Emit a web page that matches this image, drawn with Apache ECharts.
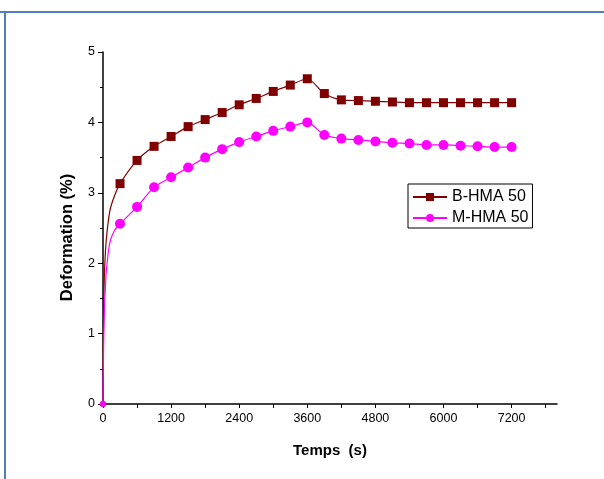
<!DOCTYPE html>
<html>
<head>
<meta charset="utf-8">
<script src="https://cdn.jsdelivr.net/npm/echarts@6/dist/echarts.min.js"></script>
<style>
  html, body { margin: 0; padding: 0; background: #fff; }
  #chart { width: 604px; height: 479px; }
</style>
</head>
<body>
<div id="chart"></div>
<script>
  // temps (s) — points serrés au début pour la montée rapide
  const times = [0, 5, 15, 30, 60, 120, 200, 300, 600, 900, 1200, 1500, 1800, 2100, 2400, 2700, 3000, 3300, 3600,
    3900, 4200, 4500, 4800, 5100, 5400, 5700, 6000, 6300, 6600, 6900, 7200]
  const bHma = [0, 0.8, 1.5, 1.95, 2.35, 2.74, 2.95, 3.13, 3.46, 3.66, 3.80, 3.94, 4.04, 4.14, 4.25, 4.34, 4.44, 4.53, 4.62,
    4.41, 4.32, 4.31, 4.30, 4.29, 4.28, 4.28, 4.28, 4.28, 4.28, 4.28, 4.28]
  const mHma = [0, 0.5, 1.0, 1.45, 1.9, 2.29, 2.46, 2.56, 2.80, 3.08, 3.22, 3.36, 3.50, 3.62, 3.72, 3.80, 3.88, 3.94, 4.00,
    3.82, 3.77, 3.75, 3.73, 3.71, 3.70, 3.68, 3.68, 3.67, 3.66, 3.65, 3.65]
  const seriesNames = ['B-HMA 50', 'M-HMA 50']
  const xTickLabels = [0, 1200, 2400, 3600, 4800, 6000, 7200]
  const xTicks = [0, 600, 1200, 1800, 2400, 3000, 3600, 4200, 4800, 5400, 6000, 6600, 7200, 7800]

  const font = 'Liberation Sans, Arial, sans-serif'

  // un symbole tous les 300 s, aucun sur les points intermédiaires
  function buildData (values, originSize) {
    return times.map((t, i) => {
      if (t === 0) return { value: [t, values[i]], symbolSize: originSize }
      if (t % 300 === 0) return [t, values[i]]
      return { value: [t, values[i]], symbol: 'none' }
    })
  }

  let myChart = echarts.init(document.getElementById('chart'))
  myChart.setOption({
    animation: false,
    backgroundColor: '#fff',
    textStyle: { fontFamily: font },
    grid: { left: 103, right: 47, top: 52, bottom: 75 },
    legend: {
      orient: 'vertical',
      left: 408,
      top: 184,
      padding: [5, 4, 2, 4],
      borderColor: '#000',
      borderWidth: 1,
      itemWidth: 34,
      itemHeight: 10,
      itemGap: 5,
      textStyle: { fontSize: 16, color: '#000', fontFamily: font },
      data: seriesNames
    },
    xAxis: {
      type: 'value',
      min: 0,
      max: 8000,
      name: 'Temps  (s)',
      nameLocation: 'middle',
      nameGap: 39,
      nameTextStyle: { fontSize: 15, fontWeight: 'bold', color: '#000' },
      axisLine: { lineStyle: { color: '#000', width: 1.5 } },
      axisTick: { customValues: xTicks, length: 4, lineStyle: { color: '#000' } },
      axisLabel: {
        customValues: xTickLabels,
        fontSize: 12.5,
        color: '#000',
        margin: 8,
        formatter: (v) => String(v)
      },
      splitLine: { show: false }
    },
    yAxis: {
      type: 'value',
      min: 0,
      max: 5,
      interval: 1,
      name: 'Deformation (%)',
      nameLocation: 'middle',
      nameGap: 27,
      nameTextStyle: { fontSize: 16.5, fontWeight: 'bold', color: '#000', padding: [0, 19, 0, 0] },
      axisLine: { show: true, lineStyle: { color: '#000', width: 1.5 } },
      axisTick: { show: true, length: 5, lineStyle: { color: '#000' } },
      minorTick: { show: true, splitNumber: 2, length: 3, lineStyle: { color: '#000' } },
      axisLabel: { fontSize: 12.5, color: '#000', margin: 8 },
      splitLine: { show: false }
    },
    series: [
      {
        name: seriesNames[0],
        type: 'line',
        smooth: 0.25,
        symbol: 'rect',
        symbolSize: 9,
        showAllSymbol: true,
        color: '#800000',
        lineStyle: { width: 1.2, color: '#800000' },
        data: buildData(bHma, 5)
      },
      {
        name: seriesNames[1],
        type: 'line',
        smooth: 0.25,
        symbol: 'circle',
        symbolSize: 10,
        showAllSymbol: true,
        color: '#ff00ff',
        lineStyle: { width: 1.2, color: '#ff00ff' },
        data: buildData(mHma, 6)
      }
    ],
    graphic: [
      { type: 'line', shape: { x1: 0, y1: 12, x2: 604, y2: 12 }, style: { stroke: '#4f7fc0', lineWidth: 2 } },
      { type: 'line', shape: { x1: 5, y1: 12, x2: 5, y2: 479 }, style: { stroke: '#4f7fc0', lineWidth: 2 } }
    ]
  })
</script>
</body>
</html>
